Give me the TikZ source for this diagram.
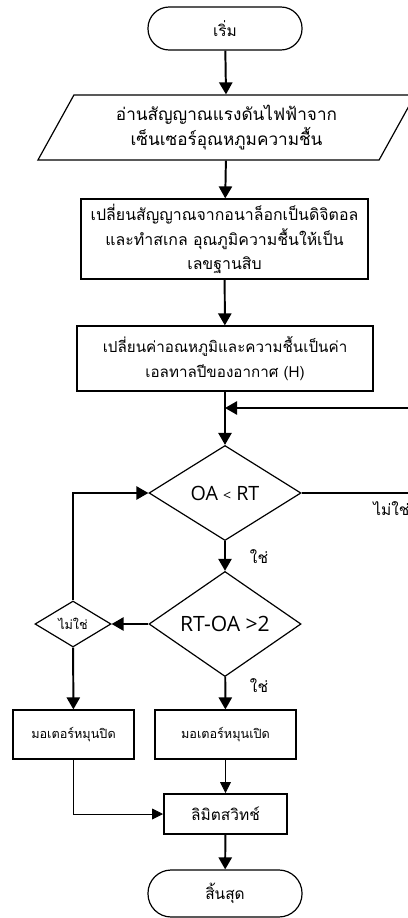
\documentclass[tikz,border=0pt]{standalone}
\usepackage{fontspec}
\newfontfamily\thaifont[Script=Thai]{Loma}
\newfontfamily\opensans{Open Sans}
\usetikzlibrary{shapes.geometric,arrows.meta}

\begin{document}
\begin{tikzpicture}[x=0.025cm,y=-0.025cm,
    font=\thaifont\fontsize{11}{17}\selectfont,
    arr/.style={line width=1.4pt,-{Triangle[length=0.3cm,width=0.33cm]}},
    thinarr/.style={line width=0.55pt,-{Triangle[length=0.27cm,width=0.27cm]}},
    box/.style={draw,line width=0.85pt,align=center,inner sep=0pt},
    term/.style={draw,line width=0.85pt,rounded corners=0.53cm,minimum width=3.85cm,minimum height=1.075cm},
    decide/.style={draw,diamond,line width=0.85pt,inner sep=0pt,font=\opensans\fontsize{14}{16}\selectfont}]
    \useasboundingbox (0,0) rectangle (407,918);

    % main column
    \node[term] (start) at (225,28.5) {เริ่ม};
    \node[draw,line width=0.85pt,trapezium,trapezium left angle=51.3,trapezium right angle=128.7,
        trapezium stretches body,minimum width=9.425cm,minimum height=1.625cm,align=center,inner sep=0pt,
        font=\thaifont\fontsize{12.2}{17.8}\selectfont]
        (read) at (226.5,127.5) {อ่านสัญญาณแรงดันไฟฟ้าจาก\\เซ็นเซอร์อุณหภูมความชื้น};
    \node[box,minimum width=7.175cm,minimum height=2cm,font=\thaifont\fontsize{11.3}{17.5}\selectfont] (conv) at (224.5,239)
        {เปลี่ยนสัญญาณจากอนาล็อกเป็นดิจิตอล\\และทำสเกล อุณภูมิความชื้นให้เป็น\\เลขฐานสิบ};
    \node[box,minimum width=7.4cm,minimum height=1.625cm,font=\thaifont\fontsize{10.8}{18}\selectfont] (enth) at (225,358.5)
        {เปลี่ยนค่าอณหภูมิและความชื้นเป็นค่า\\เอลทาลปีของอากาศ (H)};

    % decisions
    \node[decide,minimum width=3.8cm,minimum height=2.375cm] (cmp1) at (225,493) {OA {\fontsize{10}{12}\selectfont<} RT};
    \node[decide,minimum width=3.8cm,minimum height=2.425cm,font=\opensans\fontsize{15}{17}\selectfont] (cmp2) at (225,624) {RT-OA >2};
    \node[decide,minimum width=1.9cm,minimum height=1.15cm,font=\thaifont\fontsize{9}{11}\selectfont] (no) at (73,624) {ไม่ใช่};

    % motors and end
    \node[box,minimum width=3.025cm,minimum height=1.225cm,font=\thaifont\fontsize{9}{11}\selectfont] (offL) at (73.5,734.5) {มอเตอร์หมุนปิด};
    \node[box,minimum width=3.525cm,minimum height=1.225cm,font=\thaifont\fontsize{9}{11}\selectfont] (onR) at (225.5,734.5) {มอเตอร์หมุนเปิด};
    \node[box,line width=1.4pt,minimum width=3.075cm,minimum height=1cm] (limit) at (225.5,814) {ลิมิตสวิทช์};
    \node[term,minimum height=1.175cm,rounded corners=0.58cm] (stop) at (225,893.5) {สิ้นสุด};

    \coordinate (outR) at (415,493);
    \coordinate (backR) at (415,408);
    \coordinate (join) at (225,408);

    \draw[arr] (start) -- (read);
    \draw[arr] (read) -- (conv);
    \draw[arr] (conv) -- (enth);
    \draw[arr] (enth) -- (cmp1);
    \draw[arr] (backR) -- (join);
    \draw[line width=1.4pt] (cmp1.east) -- (outR);
    \draw[arr] (cmp1) -- (cmp2);
    \draw[arr] (cmp2) -- (no);
    \draw[arr] (no.north) |- (cmp1.west);
    \draw[arr] (no) -- (offL);
    \draw[arr] (cmp2) -- (onR);
    \draw[thinarr] (offL) |- (limit);
    \draw[thinarr] (onR) -- (limit);
    \draw[arr] (limit) -- (stop);

    \node[anchor=west,inner sep=0pt] (nolbl) at (373,509) {ไม่ใช่};
    \node[inner sep=0pt] (yes1) at (259,557) {ใช่};
    \node[inner sep=0pt] (yes2) at (259,686) {ใช่};
\end{tikzpicture}
\end{document}
